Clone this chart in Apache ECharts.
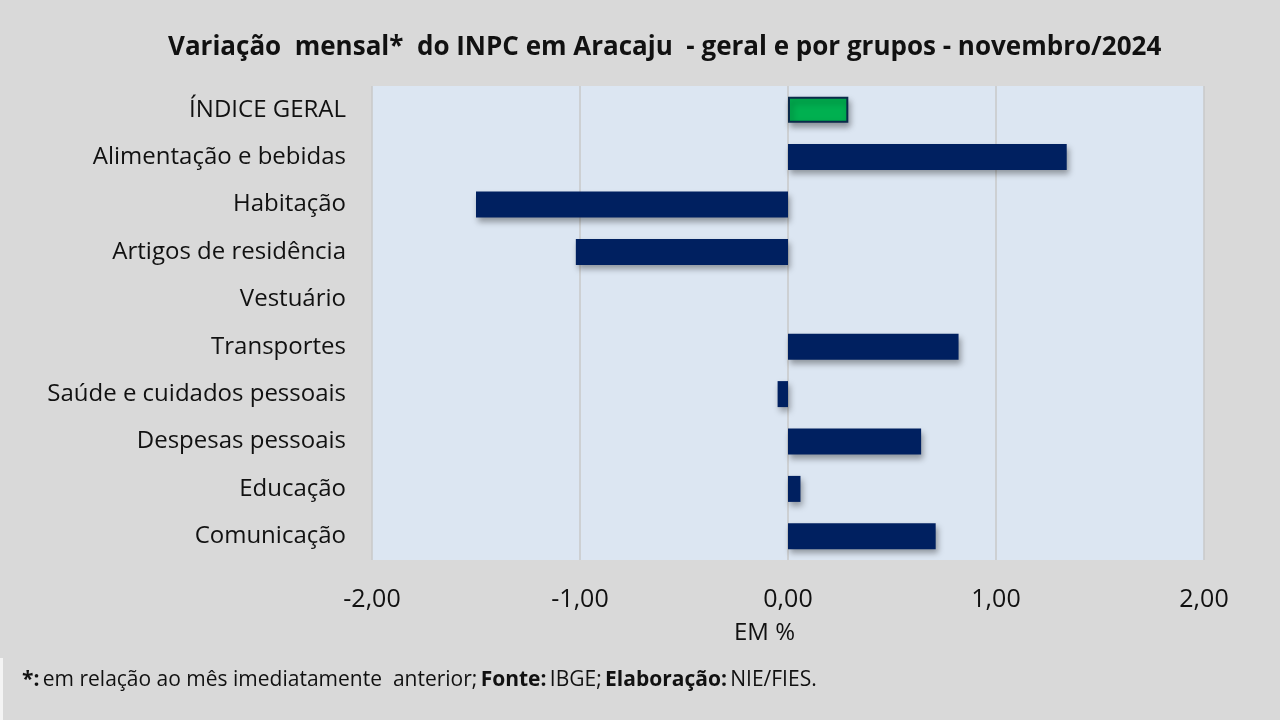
<!DOCTYPE html>
<html>
<head>
    <meta charset="utf-8">
    <script src="https://cdn.jsdelivr.net/npm/echarts@6/dist/echarts.min.js"></script>
    <style>
        body, html {
            margin: 0;
            height: 100%;
            background: #d9d9d9;
        }
        #main {
            width: 1280px;
            height: 720px;
        }
    </style>
</head>
<body>
<div id="main"></div>

<script>
    // grupos do INPC (de cima para baixo)
    var categorias = ['ÍNDICE GERAL', 'Alimentação e bebidas', 'Habitação', 'Artigos de residência',
        'Vestuário', 'Transportes', 'Saúde e cuidados pessoais', 'Despesas pessoais', 'Educação', 'Comunicação'];
    var variacao = [0.29, 1.34, -1.50, -1.02, 0.00, 0.82, -0.05, 0.64, 0.06, 0.71];
    var ticksX = [-2, -1, 0, 1, 2];

    var fonte = '"Open Sans", "Noto Sans", sans-serif';

    var dados = variacao.map(function (v, i) {
        if (i === 0) {
            return {value: v, itemStyle: {color: '#00b050', borderColor: '#0b2a4a', borderWidth: 2}};
        }
        return v;
    });

    var myChart = echarts.init(document.getElementById('main'));
    var option = {
        backgroundColor: '#d9d9d9',
        animation: false,
        title: {
            text: 'Variação  mensal*  do INPC em Aracaju  - geral e por grupos - novembro/2024',
            left: 163,
            top: 30,
            textStyle: {fontFamily: fonte, fontSize: 26, fontWeight: 'bold', color: '#111'}
        },
        grid: {left: 372, right: 76, top: 86, bottom: 160, containLabel: false,
            show: true, backgroundColor: '#dce6f2', borderWidth: 0},
        xAxis: {
            type: 'value',
            min: ticksX[0],
            max: ticksX[ticksX.length - 1],
            interval: 1,
            axisLine: {show: false},
            axisTick: {show: false},
            splitLine: {lineStyle: {color: '#c8c8c8', width: 1.5}},
            axisLabel: {
                fontFamily: fonte, fontSize: 25, color: '#111', margin: 27,
                formatter: function (v) { return v.toFixed(2).replace('.', ','); }
            }
        },
        yAxis: {
            type: 'category',
            data: categorias,
            inverse: true,
            axisLine: {show: false},
            axisTick: {show: false},
            axisLabel: {fontFamily: fonte, fontSize: 24, color: '#111', margin: 26}
        },
        graphic: [
            {type: 'text', left: 734, top: 621,
                style: {text: 'EM %', fontFamily: fonte, fontSize: 24, fill: '#111'}},
            {type: 'rect', left: 0, top: 658, shape: {width: 3, height: 62}, style: {fill: '#f4f4f4'}},
            {type: 'text', left: 22, top: 670,
                style: {
                    rich: {
                        b: {fontFamily: fonte, fontSize: 21, fontWeight: 'bold', fill: '#111'},
                        n: {fontFamily: fonte, fontSize: 21, fill: '#111'}
                    },
                    text: '{b|*:} {n|em relação ao mês imediatamente  anterior;} {b|Fonte:} {n|IBGE;} {b|Elaboração:} {n|NIE/FIES.}'
                }}
        ],
        series: [{
            type: 'bar',
            data: dados,
            barWidth: 26,
            itemStyle: {
                color: '#002060',
                shadowColor: 'rgba(0,0,0,0.35)',
                shadowBlur: 6,
                shadowOffsetX: 2,
                shadowOffsetY: 4
            }
        }]
    };
    myChart.setOption(option);
</script>
</body>
</html>
